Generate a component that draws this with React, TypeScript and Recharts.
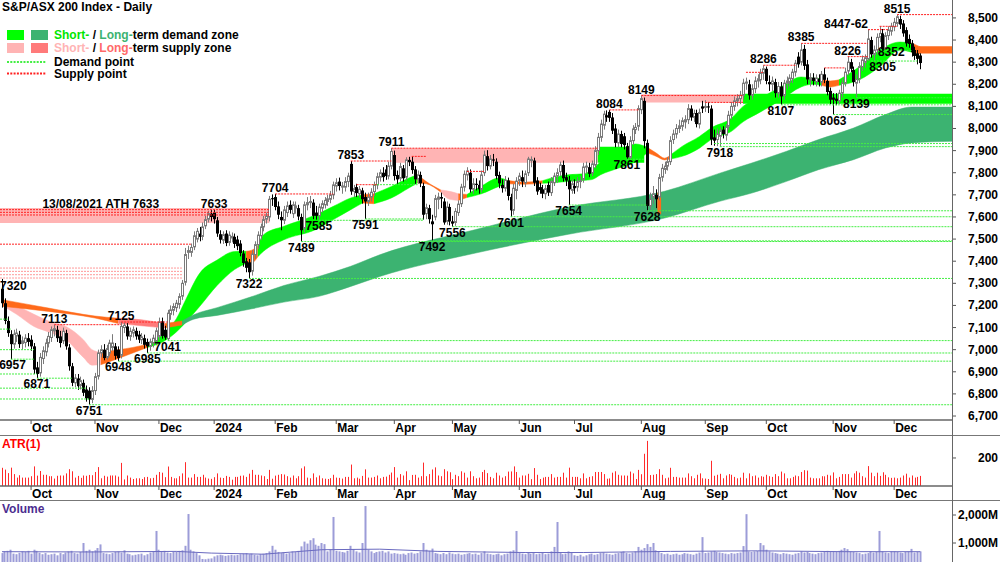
import React from 'react';
import {
  ComposedChart,
  Bar,
  Area,
  Line,
  Scatter,
  XAxis,
  YAxis,
  ReferenceArea,
  ReferenceLine,
} from 'recharts';

const FONT = "'Liberation Sans Narrow', 'Arial Narrow', 'Liberation Sans', Arial, sans-serif";

const GREEN = '#00FF00';
const DK_GREEN = '#3CB371';
const PINK = '#FFB4B4';
const SALMON = '#FF7A7A';
const ORANGE = '#FF6A1A';
const RED_DOT = '#FF2020';
const PALE_RED_DOT = '#FF9A9A';
const GREEN_DOT = '#44EE44';

// bar index: 0 = 18 Sep 2023 ... 316 = 13 Dec 2024
const X_MIN = -0.69;
const X_MAX = 326.9;

// daily [open, high, low, close]
const sep23 = [
  [7275, 7320, 7190, 7210], [7210, 7232, 7115, 7130], [7130, 7150, 7058, 7075], [7070, 7088, 6957, 7025],
  [7025, 7090, 7005, 7070], [7062, 7095, 7035, 7075], [7068, 7085, 7008, 7025], [7028, 7060, 7000, 7040],
  [7032, 7070, 7010, 7052], [7052, 7075, 7015, 7035],
];
const oct23 = [
  [7045, 7065, 6995, 7015], [7015, 7030, 6890, 6910], [6920, 6945, 6871, 6890], [6895, 6985, 6878, 6965],
  [6960, 7015, 6935, 6995], [6990, 7050, 6970, 7030], [7030, 7080, 7010, 7060], [7055, 7105, 7035, 7090],
  [7085, 7113, 7060, 7095], [7090, 7108, 7035, 7052], [7060, 7085, 7010, 7030], [7040, 7100, 7025, 7083],
  [7075, 7090, 7000, 7015], [7010, 7025, 6905, 6925], [6925, 6940, 6835, 6850], [6850, 6890, 6830, 6872],
  [6870, 6890, 6818, 6835], [6838, 6878, 6820, 6860], [6850, 6865, 6790, 6805], [6820, 6838, 6765, 6780],
  [6815, 6830, 6751, 6775], [6775, 6835, 6758, 6815],
];
const nov23 = [
  [6815, 6895, 6795, 6878], [6880, 7000, 6865, 6985], [6985, 7020, 6965, 7000], [7000, 7025, 6952, 6962],
  [6965, 7022, 6955, 7005], [6985, 7045, 6970, 7030], [7010, 7070, 6995, 7030], [7015, 7030, 6955, 6972],
  [7000, 7015, 6948, 6962], [6975, 7125, 6960, 7105], [7100, 7122, 7075, 7110], [7105, 7120, 7045, 7060],
  [7060, 7100, 7040, 7083], [7075, 7105, 7055, 7090], [7085, 7100, 7045, 7060], [7068, 7085, 7030, 7045],
  [7045, 7075, 7025, 7058], [7052, 7068, 7005, 7022], [7035, 7050, 6985, 7015], [7015, 7050, 6995, 7035],
  [7030, 7068, 7010, 7052], [7040, 7100, 7020, 7085],
];
const dec23 = [
  [7060, 7145, 7045, 7125], [7128, 7145, 7050, 7062], [7090, 7108, 7045, 7055], [7050, 7180, 7041, 7165],
  [7160, 7200, 7135, 7180], [7178, 7210, 7155, 7195], [7190, 7225, 7170, 7210], [7205, 7255, 7185, 7240],
  [7242, 7315, 7225, 7300], [7305, 7460, 7290, 7430], [7440, 7470, 7410, 7448], [7440, 7480, 7420, 7462],
  [7465, 7535, 7450, 7515], [7500, 7550, 7485, 7535], [7525, 7555, 7490, 7510], [7512, 7575, 7495, 7555],
  [7560, 7605, 7545, 7588], [7590, 7628, 7575, 7615], [7615, 7631, 7580, 7600],
];
const jan24 = [
  [7620, 7633, 7570, 7590], [7585, 7600, 7510, 7525], [7522, 7540, 7480, 7497], [7495, 7535, 7478, 7520],
  [7525, 7540, 7468, 7482], [7485, 7535, 7470, 7518], [7505, 7530, 7485, 7512], [7510, 7525, 7460, 7478],
  [7498, 7515, 7450, 7468], [7480, 7495, 7422, 7437], [7435, 7450, 7375, 7392], [7400, 7415, 7350, 7370],
  [7395, 7410, 7322, 7350], [7355, 7450, 7335, 7432], [7430, 7490, 7410, 7475], [7475, 7535, 7455, 7518],
  [7515, 7570, 7495, 7555], [7555, 7605, 7535, 7588], [7590, 7620, 7570, 7603], [7600, 7695, 7580, 7680],
  [7685, 7702, 7650, 7680],
];
const feb24 = [
  [7690, 7704, 7630, 7645], [7648, 7670, 7590, 7610], [7600, 7625, 7540, 7585], [7585, 7650, 7568, 7632],
  [7620, 7670, 7600, 7650], [7655, 7675, 7615, 7632], [7615, 7670, 7595, 7655], [7640, 7670, 7615, 7650],
  [7640, 7655, 7585, 7602], [7600, 7615, 7489, 7540], [7550, 7670, 7530, 7655], [7655, 7690, 7630, 7665],
  [7665, 7695, 7640, 7670], [7665, 7680, 7590, 7605], [7620, 7650, 7588, 7605], [7605, 7660, 7585, 7645],
  [7640, 7675, 7620, 7660], [7655, 7690, 7638, 7675], [7670, 7700, 7650, 7682], [7680, 7718, 7662, 7700],
  [7700, 7760, 7680, 7745],
];
const mar24 = [
  [7740, 7775, 7715, 7755], [7760, 7778, 7720, 7740], [7735, 7758, 7705, 7740], [7735, 7780, 7715, 7760],
  [7760, 7800, 7735, 7785], [7840, 7853, 7700, 7715], [7715, 7745, 7690, 7728], [7735, 7750, 7690, 7708],
  [7705, 7740, 7688, 7725], [7720, 7732, 7660, 7680], [7690, 7710, 7591, 7670], [7670, 7710, 7650, 7690],
  [7690, 7730, 7670, 7712], [7715, 7760, 7695, 7745], [7745, 7800, 7725, 7782], [7780, 7815, 7760, 7800],
  [7800, 7825, 7760, 7780], [7815, 7835, 7768, 7785], [7785, 7850, 7770, 7830], [7830, 7911, 7815, 7896],
];
const apr24 = [
  [7880, 7900, 7765, 7785], [7790, 7810, 7750, 7770], [7775, 7845, 7760, 7828], [7820, 7835, 7760, 7775],
  [7780, 7870, 7765, 7858], [7858, 7872, 7830, 7848], [7850, 7874, 7795, 7812], [7815, 7830, 7750, 7770],
  [7770, 7810, 7750, 7790], [7790, 7805, 7735, 7752], [7740, 7755, 7588, 7610], [7615, 7660, 7590, 7642],
  [7640, 7655, 7570, 7590], [7580, 7610, 7492, 7567], [7600, 7700, 7585, 7683], [7680, 7710, 7635, 7690],
  [7690, 7710, 7640, 7683], [7670, 7685, 7565, 7575], [7580, 7670, 7565, 7645], [7645, 7660, 7562, 7580],
];
const may24 = [
  [7580, 7605, 7556, 7570], [7575, 7640, 7560, 7625], [7620, 7675, 7605, 7658], [7660, 7750, 7645, 7735],
  [7735, 7810, 7715, 7793], [7790, 7825, 7765, 7808], [7800, 7815, 7710, 7725], [7725, 7775, 7705, 7750],
  [7750, 7775, 7720, 7745], [7745, 7765, 7705, 7725], [7725, 7810, 7710, 7790], [7800, 7900, 7785, 7880],
  [7875, 7902, 7810, 7830], [7830, 7880, 7815, 7862], [7860, 7885, 7830, 7855], [7850, 7865, 7770, 7785],
  [7790, 7805, 7730, 7752], [7745, 7770, 7710, 7730], [7730, 7785, 7715, 7765], [7765, 7778, 7675, 7695],
  [7690, 7705, 7601, 7630], [7630, 7750, 7610, 7730], [7720, 7780, 7680, 7762],
];
const jun24 = [
  [7765, 7800, 7740, 7785], [7780, 7810, 7735, 7760], [7755, 7810, 7735, 7795], [7800, 7872, 7785, 7862],
  [7860, 7874, 7825, 7860], [7855, 7868, 7740, 7755], [7765, 7780, 7700, 7715], [7735, 7755, 7705, 7722],
  [7725, 7745, 7685, 7705], [7705, 7745, 7680, 7728], [7745, 7760, 7695, 7710], [7710, 7780, 7695, 7760],
  [7755, 7800, 7740, 7785], [7785, 7820, 7755, 7800], [7805, 7850, 7785, 7835], [7835, 7855, 7760, 7775],
  [7780, 7800, 7740, 7765], [7765, 7785, 7654, 7725], [7720, 7770, 7705, 7750],
];
const jul24 = [
  [7740, 7770, 7705, 7730], [7735, 7780, 7715, 7760], [7760, 7785, 7730, 7765], [7770, 7845, 7755, 7826],
  [7825, 7850, 7795, 7830], [7825, 7845, 7780, 7795], [7800, 7855, 7785, 7840], [7835, 7920, 7820, 7900],
  [7900, 7980, 7880, 7960], [7960, 8040, 7940, 8020], [8015, 8080, 7995, 8065], [8060, 8082, 8030, 8050],
  [8075, 8084, 8030, 8048], [8050, 8070, 7975, 7990], [8000, 8020, 7915, 7935], [7935, 7995, 7915, 7975],
  [7975, 7990, 7915, 7930], [7965, 7980, 7905, 7925], [7920, 7935, 7861, 7870], [7870, 7965, 7862, 7945],
  [7945, 8015, 7925, 7998], [7995, 8025, 7975, 8005], [8010, 8105, 7990, 8090],
];
const aug24 = [
  [8085, 8149, 8065, 8135], [8125, 8140, 7910, 7943], [7935, 7950, 7628, 7650], [7650, 7710, 7632, 7680],
  [7690, 7740, 7660, 7705], [7700, 7725, 7640, 7680], [7690, 7795, 7675, 7778], [7780, 7840, 7760, 7820],
  [7815, 7850, 7795, 7830], [7830, 7870, 7810, 7850], [7850, 7965, 7835, 7945], [7950, 7995, 7930, 7975],
  [7975, 8020, 7955, 8000], [8000, 8040, 7980, 8012], [8010, 8050, 7990, 8035], [8030, 8060, 8000, 8040],
  [8040, 8110, 8020, 8090], [8090, 8105, 8035, 8050], [8050, 8085, 8030, 8068], [8070, 8085, 8005, 8020],
  [8020, 8090, 8000, 8072], [8100, 8125, 8070, 8090],
];
const sep24 = [
  [8095, 8128, 8075, 8100], [8100, 8120, 8070, 8095], [8090, 8105, 7925, 7950], [7960, 7995, 7922, 7945],
  [7950, 8000, 7920, 7975], [7965, 8005, 7918, 7990], [7995, 8010, 7955, 7975], [7970, 8020, 7945, 8005],
  [8010, 8080, 7995, 8060], [8060, 8120, 8040, 8100], [8100, 8145, 8080, 8125], [8125, 8155, 8100, 8135],
  [8135, 8170, 8110, 8150], [8150, 8225, 8130, 8205], [8205, 8230, 8175, 8210], [8200, 8220, 8130, 8150],
  [8150, 8200, 8130, 8180], [8180, 8235, 8160, 8215], [8215, 8245, 8185, 8225], [8220, 8270, 8200, 8250],
  [8250, 8286, 8220, 8270],
];
const oct24 = [
  [8270, 8280, 8200, 8215], [8210, 8240, 8170, 8200], [8200, 8235, 8170, 8215], [8210, 8225, 8140, 8160],
  [8160, 8210, 8140, 8190], [8190, 8210, 8107, 8145], [8150, 8220, 8130, 8205], [8205, 8235, 8180, 8215],
  [8210, 8245, 8190, 8228], [8225, 8270, 8205, 8255], [8255, 8310, 8235, 8295], [8325, 8345, 8275, 8290],
  [8300, 8385, 8285, 8355], [8360, 8378, 8265, 8283], [8290, 8310, 8200, 8222], [8220, 8250, 8190, 8230],
  [8230, 8250, 8195, 8215], [8212, 8245, 8190, 8228], [8225, 8245, 8190, 8210], [8210, 8260, 8190, 8245],
  [8245, 8274, 8205, 8220], [8215, 8230, 8150, 8165], [8170, 8185, 8110, 8130],
];
const nov24 = [
  [8140, 8160, 8063, 8130], [8135, 8160, 8105, 8125], [8125, 8175, 8110, 8160], [8160, 8225, 8140, 8205],
  [8205, 8275, 8190, 8255], [8260, 8325, 8240, 8300], [8300, 8315, 8255, 8270], [8265, 8280, 8190, 8210],
  [8205, 8245, 8139, 8222], [8225, 8300, 8205, 8280], [8280, 8330, 8260, 8310], [8300, 8335, 8275, 8320],
  [8315, 8447, 8305, 8405], [8400, 8415, 8320, 8335], [8335, 8375, 8305, 8355], [8355, 8430, 8335, 8412],
  [8412, 8462, 8390, 8430], [8430, 8450, 8352, 8360], [8362, 8435, 8355, 8420], [8420, 8462, 8400, 8445],
  [8440, 8478, 8420, 8462],
];
const dec24 = [
  [8460, 8500, 8440, 8480], [8475, 8515, 8460, 8505], [8495, 8510, 8450, 8470], [8475, 8490, 8415, 8430],
  [8445, 8458, 8370, 8385], [8405, 8425, 8365, 8382], [8385, 8400, 8325, 8345], [8355, 8370, 8310, 8328],
  [8340, 8355, 8290, 8315], [8330, 8340, 8268, 8296],
];

// daily volume, millions of shares
const volSep23 = [640, 700, 720, 760, 620, 600, 650, 700, 680, 720];
const volOct23 = [620, 760, 720, 650, 600, 640, 580, 600, 620, 560, 640, 600, 660, 700, 720, 640, 620, 680, 1000, 720, 760, 700];
const volNov23 = [740, 820, 950, 640, 620, 600, 640, 680, 700, 660, 740, 620, 600, 560, 580, 600, 620, 560, 600, 660, 700, 1430];
const volDec23 = [760, 700, 720, 660, 640, 680, 700, 720, 740, 900, 2035, 760, 700, 640, 560, 430, 420, 440, 450];
const volJan24 = [520, 560, 580, 560, 540, 560, 580, 560, 570, 600, 620, 640, 600, 620, 580, 560, 600, 620, 640, 700, 900];
const volFeb24 = [760, 680, 640, 660, 620, 640, 700, 680, 720, 880, 1050, 980, 1100, 1170, 940, 900, 1000, 960, 700, 760, 1930];
const volMar24 = [720, 700, 680, 660, 720, 900, 780, 700, 660, 1000, 2320, 760, 700, 640, 680, 700, 720, 660, 700, 620];
const volApr24 = [640, 620, 600, 620, 580, 640, 660, 620, 640, 700, 1000, 760, 720, 800, 640, 620, 600, 640, 600, 660];
const volMay24 = [620, 600, 620, 580, 600, 620, 640, 600, 620, 580, 640, 700, 620, 600, 580, 600, 620, 560, 600, 620, 700, 740, 1430];
const volJun24 = [640, 620, 600, 660, 620, 640, 600, 620, 660, 600, 620, 700, 860, 1750, 640, 600, 620, 700, 660];
const volJul24 = [560, 540, 580, 520, 560, 600, 620, 580, 600, 640, 660, 620, 600, 580, 620, 640, 680, 700, 640, 620, 660, 700, 860];
const volAug24 = [760, 820, 960, 860, 1000, 740, 700, 640, 600, 620, 580, 600, 620, 580, 600, 640, 620, 600, 580, 620, 660, 1210];
const volSep24 = [640, 660, 700, 720, 680, 660, 640, 620, 600, 640, 620, 640, 660, 890, 2030, 700, 680, 700, 720, 1000, 920];
const volOct24 = [760, 700, 660, 640, 620, 600, 640, 620, 600, 580, 620, 640, 700, 660, 680, 640, 620, 600, 640, 660, 700, 720, 680];
const volNov24 = [700, 680, 720, 760, 820, 780, 700, 680, 660, 640, 600, 620, 640, 700, 660, 680, 1430, 700, 660, 640, 700];
const volDec24 = [700, 680, 660, 640, 680, 700, 790, 660, 680, 700];

// volume average line, read at a few bars [bar, millions]
const VOL_AVG = [
  [0, 690], [30, 680], [60, 700], [72, 640], [90, 600], [110, 760], [130, 780], [150, 700],
  [180, 660], [200, 660], [230, 700], [260, 720], [290, 690], [316, 690],
];

// month ticks (first trading day) and labels
const MONTH_TICKS = [10, 32, 54, 73, 94, 115, 135, 155, 178, 197, 220, 242, 263, 286, 307];
const MONTH_LABELS = ['Oct', 'Nov', 'Dec', '2024', 'Feb', 'Mar', 'Apr', 'May', 'Jun', 'Jul', 'Aug', 'Sep', 'Oct', 'Nov', 'Dec'];
const PRICE_TICKS = [6700, 6800, 6900, 7000, 7100, 7200, 7300, 7400, 7500, 7600, 7700, 7800, 7900, 8000, 8100, 8200, 8300, 8400, 8500];

// short-term ribbon [bar, low edge, high edge]
const ST_POINTS = [
  [0, 7200, 7228], [5, 7160, 7200], [11, 7105, 7160], [16, 7080, 7130], [22, 7045, 7105], [28, 6965, 7045],
  [31, 6930, 7000], [34, 6932, 6988], [40, 6960, 7000], [45, 6985, 7010], [50, 7010, 7025], [56, 7040, 7080],
  [60, 7080, 7140], [63, 7120, 7220], [68, 7195, 7345], [74, 7290, 7405], [80, 7362, 7444], [84, 7390, 7445],
  [86, 7392, 7450], [88, 7420, 7470], [90, 7445, 7520], [97, 7497, 7558], [108, 7543, 7610], [114, 7588, 7648],
  [120, 7633, 7686], [124, 7663, 7701], [128, 7660, 7705], [134, 7686, 7738], [140, 7731, 7776], [143, 7754, 7791],
  [146, 7750, 7760], [151, 7712, 7722], [154, 7680, 7716], [157, 7675, 7705], [160, 7688, 7702], [165, 7705, 7740],
  [171, 7738, 7776], [174, 7750, 7765], [180, 7748, 7758], [186, 7752, 7764], [190, 7755, 7780], [195, 7761, 7791],
  [200, 7765, 7795], [203, 7769, 7814], [206, 7791, 7850], [212, 7820, 7890], [218, 7850, 7930], [222, 7890, 7915],
  [225, 7875, 7890], [228, 7858, 7866], [230, 7862, 7880], [234, 7874, 7919], [240, 7911, 7964], [244, 7950, 8002],
  [251, 7987, 8047], [255, 8030, 8100], [261, 8075, 8138], [268, 8129, 8188], [275, 8188, 8233], [279, 8200, 8228],
  [282, 8195, 8225], [285, 8188, 8215], [288, 8195, 8220], [295, 8220, 8279], [302, 8279, 8355], [309, 8355, 8391],
  [313, 8345, 8387], [316, 8337, 8369],
];
const ST_SEGMENTS = [
  [0, 34, PINK], [34, 50, ORANGE], [50, 84, GREEN], [84, 88, ORANGE], [88, 124, GREEN], [124, 128, ORANGE],
  [128, 143, GREEN], [143, 151, ORANGE], [151, 157, PINK], [157, 160, ORANGE], [160, 174, GREEN], [174, 186, ORANGE],
  [186, 222, GREEN], [222, 230, ORANGE], [230, 282, GREEN], [282, 288, ORANGE], [288, 313, GREEN], [313, 316, ORANGE],
];

// long-term ribbon
const LT_POINTS = [
  [0, 7196, 7226], [16, 7173, 7188], [32, 7143, 7152], [40, 7118, 7142], [48, 7108, 7135], [56, 7098, 7118],
  [62, 7112, 7130], [66, 7138, 7158], [74, 7155, 7190], [86, 7185, 7240], [97, 7215, 7290], [109, 7241, 7331],
  [120, 7286, 7377], [130, 7331, 7429], [163, 7437, 7543], [195, 7522, 7645], [228, 7595, 7716], [247, 7671, 7798],
  [258, 7708, 7844], [270, 7761, 7897], [281, 7814, 7950], [293, 7859, 8002], [304, 7912, 8063], [313, 7935, 8097],
  [326.9, 7942, 8097],
];
const LT_SEGMENTS = [[0, 40, ORANGE], [40, 56, SALMON], [56, 62, ORANGE], [62, 326.9, DK_GREEN]];

// zones [from bar, to bar, low, high]
const SUPPLY_ZONES = [[X_MIN, 92, 7573, 7641], [134, 205, 7845, 7911], [220, 255, 8118, 8155]];
const DEMAND_ZONES = [[205, 221, 7845, 7918], [255, X_MAX, 8112, 8157]];
const HOT_ZONES = [[225.5, 226.8, 7612, 7710], [315.5, X_MAX, 8339, 8372]];

// supply / demand points [from bar, to bar, price]
const SUPPLY_POINTS = [
  [X_MIN, 92, 7633], [X_MIN, 92, 7621], [X_MIN, 92, 7609], [X_MIN, 65, 7477], [18, 41, 7113], [41, 57, 7125],
  [94, 114, 7704], [120, 134, 7853], [122, 129, 7746], [134, 205, 7911], [141, 146, 7874], [160, 166, 7806],
  [209, 219, 8084], [220, 255, 8149], [242, 255, 8118], [256, 262, 8254], [262, 273, 8286], [275, 298, 8385],
  [283, 290, 8274], [291, 298, 8325], [298, 305, 8447], [302, 308, 8462], [308, X_MAX, 8515],
];
const OLD_SUPPLY_POINTS = [[X_MIN, 62, 7369], [X_MIN, 62, 7354], [X_MIN, 62, 7339], [X_MIN, 62, 7324]];
const DEMAND_POINTS = [
  [X_MIN, 2, 7138], [X_MIN, 3, 7093], [X_MIN, 11, 7000], [X_MIN, 12, 6890], [X_MIN, 29, 6826], [X_MIN, 30, 6777],
  [3, 11, 6957], [12, 24, 6871], [30, X_MAX, 6751], [40, X_MAX, 6948], [50, X_MAX, 6985], [57, X_MAX, 7041],
  [85, X_MAX, 7322], [103, X_MAX, 7489], [109, 145, 7585], [125, 145, 7591], [128, 143, 7746], [148, X_MAX, 7492],
  [155, X_MAX, 7556], [175, X_MAX, 7601], [195, 222, 7654], [215, 221, 7861], [222, X_MAX, 7628],
  [245, X_MAX, 7932], [247, X_MAX, 7918], [268, X_MAX, 8107], [286, X_MAX, 8063], [294, X_MAX, 8139],
  [299, 315, 8305], [303, 313, 8352],
];

// pivot labels [bar, price, text, side]
const PIVOT_LABELS = [
  [0, 7320, '7320', 'right'], [18, 7113, '7113', 'above'], [41, 7125, '7125', 'above'],
  [34, 7633, '13/08/2021 ATH 7633', 'above'], [73, 7633, '7633', 'above'], [94, 7704, '7704', 'above'],
  [120, 7853, '7853', 'above'], [134, 7911, '7911', 'above'], [209, 8084, '8084', 'above'],
  [220, 8149, '8149', 'above'], [262, 8286, '8286', 'above'], [275, 8385, '8385', 'above'],
  [291, 8325, '8226', 'above'], [298, 8447, '8447-62', 'left'], [308, 8515, '8515', 'above'],
  [3.6, 6957, '6957', 'below'], [12, 6871, '6871', 'below'], [30, 6751, '6751', 'below'], [40, 6948, '6948', 'below'],
  [50, 6985, '6985', 'below'], [57, 7041, '7041', 'below'], [85, 7322, '7322', 'below'], [103, 7489, '7489', 'below'],
  [109, 7585, '7585', 'below'], [125, 7591, '7591', 'below'], [148, 7492, '7492', 'below'], [155, 7556, '7556', 'below'],
  [175, 7601, '7601', 'below'], [195, 7654, '7654', 'below'], [215, 7861, '7861', 'below'], [222, 7628, '7628', 'below'],
  [247, 7918, '7918', 'below'], [268, 8107, '8107', 'below'], [286, 8063, '8063', 'below'], [294, 8139, '8139', 'below'],
  [303, 8305, '8305', 'below'], [306, 8372, '8352', 'below'],
];

const OHLC = [...sep23, ...oct23, ...nov23, ...dec23, ...jan24, ...feb24, ...mar24, ...apr24, ...may24, ...jun24, ...jul24, ...aug24, ...sep24, ...oct24, ...nov24, ...dec24];
const VOLUME = [...volSep23, ...volOct23, ...volNov23, ...volDec23, ...volJan24, ...volFeb24, ...volMar24, ...volApr24, ...volMay24, ...volJun24, ...volJul24, ...volAug24, ...volSep24, ...volOct24, ...volNov24, ...volDec24];

const candles = OHLC.map(([o, h, l, c], i) => ({ i, o, h, l, c, range: [l, h] }));
// ATR(1) = true range of each day
const atrData = OHLC.map(([, h, l], i) => {
  const pc = i > 0 ? OHLC[i - 1][3] : null;
  const tr = pc == null ? h - l : Math.max(h, pc) - Math.min(l, pc);
  return { i, atr: tr };
});
const volData = VOLUME.map((v, i) => ({ i, vol: v }));
const volAvgData = VOL_AVG.map(([i, v]) => ({ i, avg: v }));
const labelData = PIVOT_LABELS.map(([i, v, text, side]) => ({ i, v, text, side }));

const ribbon = (pts: number[][], from: number, to: number) =>
  pts.filter((p) => p[0] >= from && p[0] <= to).map(([i, lo, hi]) => ({ i, band: [lo, hi] }));

const txt = { fontFamily: FONT, fontWeight: 700, fontSize: 12 } as const;

const Candle = (props: any) => {
  const { x, y, width, height, payload } = props;
  if (!payload || x == null || y == null || height == null) return null;
  const { o, h, l, c } = payload;
  const top = Math.min(y, y + height);
  const span = Math.abs(height);
  const k = h > l ? span / (h - l) : 0;
  const cx = Math.round(x + width / 2);
  const bTop = top + (h - Math.max(o, c)) * k;
  const bh = Math.max(Math.abs(o - c) * k, 1);
  if (c >= o) {
    return (
      <g>
        <line x1={cx + 0.5} x2={cx + 0.5} y1={top} y2={top + span} stroke="#7a7a7a" strokeWidth={1} />
        <rect x={cx - 0.5} y={bTop} width={2} height={bh} fill="#ffffff" stroke="#7a7a7a" strokeWidth={1} />
      </g>
    );
  }
  return (
    <g>
      <line x1={cx + 0.5} x2={cx + 0.5} y1={top} y2={top + span} stroke="#000" strokeWidth={1} />
      <rect x={cx - 1} y={bTop} width={3} height={bh} fill="#000" />
    </g>
  );
};

const ThinBar = (props: any) => {
  const { x, y, width, height, fill, barWidth } = props;
  if (x == null || y == null || !height) return null;
  const cx = Math.round(x + width / 2);
  const w = barWidth || 1;
  return <rect x={cx - (w > 1 ? 0.5 : 0)} y={Math.min(y, y + height)} width={w} height={Math.abs(height)} fill={fill} />;
};

const PivotLabel = (props: any) => {
  const { cx, cy, payload } = props;
  if (cx == null || cy == null) return null;
  let x = cx;
  let y = cy - 2;
  let anchor: 'middle' | 'start' | 'end' = 'middle';
  if (payload.side === 'below') y = cy + 10;
  if (payload.side === 'right') {
    x = cx - 2;
    y = cy + 11;
    anchor = 'start';
  }
  if (payload.side === 'left') anchor = 'end';
  return (
    <text x={x} y={y} textAnchor={anchor} fill="#000" {...txt}>
      {payload.text}
    </text>
  );
};

const MonthTick = (props: any) => {
  const { x, y, payload } = props;
  const k = MONTH_TICKS.indexOf(payload.value);
  return (
    <g>
      <line x1={x} x2={x} y1={y} y2={y + 4} stroke="#555" strokeWidth={1} />
      <text x={x + 1} y={y + 12} textAnchor="start" fill="#000" {...txt}>
        {MONTH_LABELS[k]}
      </text>
    </g>
  );
};

const RightTick = (props: any) => {
  const { x, y, payload, suffix } = props;
  const label = Number(payload.value).toLocaleString('en-US') + (suffix || '');
  return (
    <g>
      <line x1={x} x2={x + 4} y1={y} y2={y} stroke="#555" strokeWidth={1} />
      <text x={998} y={y + 4} textAnchor="end" fill="#000" {...txt}>
        {label}
      </text>
    </g>
  );
};

const ZERO = { top: 0, right: 0, bottom: 0, left: 0 };

const Swatch = ({ left, top, color }: { left: number; top: number; color: string }) => (
  <div style={{ position: 'absolute', left, top, width: 17, height: 10, background: color }} />
);

const Legend = () => (
  <div style={{ position: 'absolute', left: 0, top: 0, font: `bold 12px ${FONT}`, color: '#000', whiteSpace: 'nowrap', lineHeight: '14px' }}>
    <div style={{ position: 'absolute', left: 2, top: 0 }}>{'S&P/ASX 200 Index - Daily'}</div>
    <Swatch left={7} top={30} color={GREEN} />
    <Swatch left={31} top={30} color={DK_GREEN} />
    <div style={{ position: 'absolute', left: 54, top: 28 }}>
      <span style={{ color: '#00E600' }}>Short-</span> / <span style={{ color: DK_GREEN }}>Long-</span>term demand zone
    </div>
    <Swatch left={7} top={43} color={PINK} />
    <Swatch left={31} top={43} color={SALMON} />
    <div style={{ position: 'absolute', left: 54, top: 41 }}>
      <span style={{ color: PINK }}>Short-</span> / <span style={{ color: '#FF6A6A' }}>Long-</span>term supply zone
    </div>
    <svg style={{ position: 'absolute', left: 0, top: 0 }} width={50} height={80}>
      <line x1={7} x2={46} y1={62} y2={62} stroke={GREEN_DOT} strokeWidth={2} strokeDasharray="2 1.3" />
      <line x1={7} x2={46} y1={73.5} y2={73.5} stroke={RED_DOT} strokeWidth={2} strokeDasharray="2 1.3" />
    </svg>
    <div style={{ position: 'absolute', left: 54, top: 55 }}>Demand point</div>
    <div style={{ position: 'absolute', left: 54, top: 67 }}>Supply point</div>
  </div>
);

export default function App() {
  return (
    <div style={{ position: 'absolute', left: 0, top: 0, width: 1000, height: 562, overflow: 'hidden', background: '#fff' }}>
      <div style={{ position: 'absolute', left: 0, top: 0 }}>
        <ComposedChart width={1000} height={435} data={candles} margin={ZERO}>
          <XAxis
            dataKey="i"
            type="number"
            domain={[X_MIN, X_MAX]}
            allowDataOverflow
            ticks={MONTH_TICKS}
            interval={0}
            height={15}
            tickSize={0}
            tickMargin={0}
            tickLine={false}
            axisLine={{ stroke: '#666', strokeWidth: 1.5 }}
            tick={<MonthTick />}
          />
          <YAxis
            orientation="right"
            type="number"
            domain={[6682, 8581]}
            allowDataOverflow
            ticks={PRICE_TICKS}
            interval={0}
            width={48}
            tickSize={0}
            tickMargin={0}
            tickLine={false}
            axisLine={false}
            tick={<RightTick />}
          />
          {ST_SEGMENTS.map(([a, b, col], k) => (
            <Area
              key={'st' + k}
              data={ribbon(ST_POINTS, a as number, b as number)}
              dataKey="band"
              type="monotone"
              fill={col as string}
              fillOpacity={1}
              stroke={col as string}
              strokeWidth={0.5}
              dot={false}
              activeDot={false}
              isAnimationActive={false}
            />
          ))}
          {LT_SEGMENTS.map(([a, b, col], k) => (
            <Area
              key={'lt' + k}
              data={ribbon(LT_POINTS, a as number, b as number)}
              dataKey="band"
              type="monotone"
              fill={col as string}
              fillOpacity={1}
              stroke={col as string}
              strokeWidth={0.5}
              dot={false}
              activeDot={false}
              isAnimationActive={false}
            />
          ))}
          {SUPPLY_ZONES.map(([a, b, lo, hi], k) => (
            <ReferenceArea key={'sz' + k} x1={a} x2={b} y1={lo} y2={hi} fill={PINK} fillOpacity={1} stroke="none" ifOverflow="hidden" />
          ))}
          {DEMAND_ZONES.map(([a, b, lo, hi], k) => (
            <ReferenceArea key={'dz' + k} x1={a} x2={b} y1={lo} y2={hi} fill={GREEN} fillOpacity={1} stroke="none" ifOverflow="hidden" />
          ))}
          {HOT_ZONES.map(([a, b, lo, hi], k) => (
            <ReferenceArea key={'hz' + k} x1={a} x2={b} y1={lo} y2={hi} fill={ORANGE} fillOpacity={1} stroke="none" ifOverflow="hidden" />
          ))}
          {OLD_SUPPLY_POINTS.map(([a, b, v], k) => (
            <ReferenceLine key={'os' + k} segment={[{ x: a, y: v }, { x: b, y: v }]} stroke={PALE_RED_DOT} strokeWidth={1} strokeDasharray="2 1" ifOverflow="hidden" />
          ))}
          {DEMAND_POINTS.map(([a, b, v], k) => (
            <ReferenceLine key={'dp' + k} segment={[{ x: a, y: v }, { x: b, y: v }]} stroke={GREEN_DOT} strokeWidth={1} strokeDasharray="2 1" ifOverflow="hidden" />
          ))}
          {SUPPLY_POINTS.map(([a, b, v], k) => (
            <ReferenceLine key={'sp' + k} segment={[{ x: a, y: v }, { x: b, y: v }]} stroke={RED_DOT} strokeWidth={1} strokeDasharray="2 1" ifOverflow="hidden" />
          ))}
          <Bar dataKey="range" barSize={3} shape={<Candle />} isAnimationActive={false} />
          <Scatter data={labelData} dataKey="v" shape={<PivotLabel />} isAnimationActive={false} />
        </ComposedChart>
      </div>

      <div style={{ position: 'absolute', left: 0, top: 435 }}>
        <ComposedChart width={1000} height={65} data={atrData} margin={ZERO}>
          <XAxis
            dataKey="i"
            type="number"
            domain={[X_MIN, X_MAX]}
            allowDataOverflow
            ticks={MONTH_TICKS}
            interval={0}
            height={14}
            tickSize={0}
            tickMargin={0}
            tickLine={false}
            axisLine={{ stroke: '#666', strokeWidth: 1.5 }}
            tick={<MonthTick />}
          />
          <YAxis
            orientation="right"
            type="number"
            domain={[0, 364]}
            allowDataOverflow
            ticks={[200]}
            width={48}
            tickSize={0}
            tickMargin={0}
            tickLine={false}
            axisLine={false}
            tick={<RightTick />}
          />
          <Bar dataKey="atr" barSize={1} fill="#FF2A2A" shape={<ThinBar />} isAnimationActive={false} />
        </ComposedChart>
      </div>

      <div style={{ position: 'absolute', left: 0, top: 500 }}>
        <ComposedChart width={1000} height={71} data={volData} margin={ZERO}>
          <XAxis dataKey="i" type="number" domain={[X_MIN, X_MAX]} allowDataOverflow hide />
          <YAxis
            orientation="right"
            type="number"
            domain={[0, 2536]}
            allowDataOverflow
            ticks={[1000, 2000]}
            width={48}
            tickSize={0}
            tickMargin={0}
            tickLine={false}
            axisLine={false}
            tick={<RightTick suffix="M" />}
          />
          <Bar dataKey="vol" barSize={2} fill="#9C9CD8" shape={<ThinBar barWidth={2} />} isAnimationActive={false} />
          <Line data={volAvgData} dataKey="avg" type="linear" stroke="#6A6AC0" strokeWidth={1} dot={false} activeDot={false} isAnimationActive={false} />
        </ComposedChart>
      </div>

      <div style={{ position: 'absolute', left: 0, top: 434.5, width: 1000, height: 1.5, background: '#777' }} />
      <div style={{ position: 'absolute', left: 0, top: 499.5, width: 1000, height: 1.5, background: '#777' }} />
      <div style={{ position: 'absolute', left: 951.5, top: 0, width: 1.5, height: 562, background: '#666' }} />

      <Legend />
      <div style={{ position: 'absolute', left: 2, top: 437, font: `bold 12px ${FONT}`, lineHeight: '14px', color: '#FF0000' }}>ATR(1)</div>
      <div style={{ position: 'absolute', left: 2, top: 502, font: `bold 12px ${FONT}`, lineHeight: '14px', color: '#4B2D8F' }}>Volume</div>
    </div>
  );
}
